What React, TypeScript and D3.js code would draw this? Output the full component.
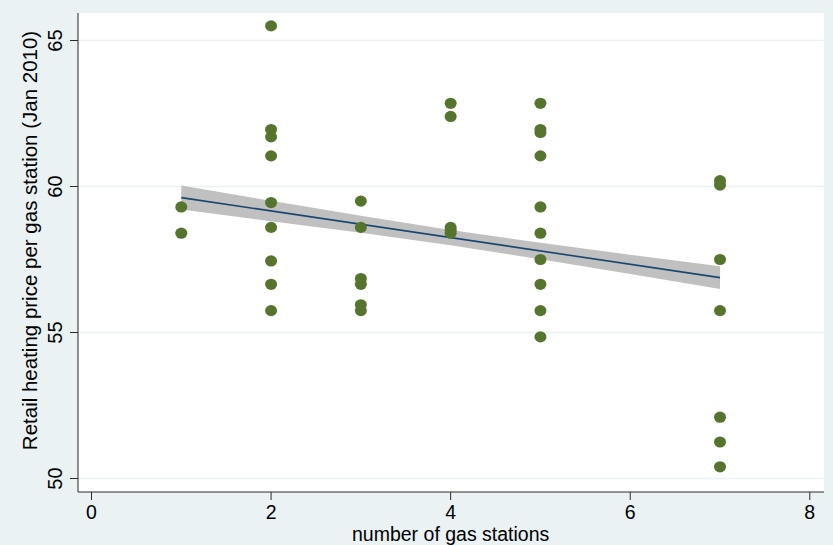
import React from "react";
import * as d3 from "d3";

// Retail heating price per gas station, grouped by the number of stations in town
const stationCounts = [1, 2, 3, 4, 5, 7];
const pricesAt1 = [59.3, 58.4];
const pricesAt2 = [65.5, 61.95, 61.7, 61.05, 59.45, 58.6, 57.45, 56.65, 55.75];
const pricesAt3 = [59.5, 58.6, 56.85, 56.65, 55.95, 55.75];
const pricesAt4 = [62.85, 62.4, 58.6, 58.5, 58.4];
const pricesAt5 = [62.85, 61.95, 61.85, 61.05, 59.3, 58.4, 57.5, 56.65, 55.75, 54.85];
const pricesAt7 = [60.2, 60.05, 57.5, 55.75, 52.1, 51.25, 50.4];
const pricesByCount = [pricesAt1, pricesAt2, pricesAt3, pricesAt4, pricesAt5, pricesAt7];

// Linear fit and its 95% confidence band
const fitX = [1, 7];
const fitY = [59.62, 56.88];
const bandX = [1, 2, 3, 4, 5, 6, 7];
const bandLow = [59.21, 58.81, 58.42, 57.99, 57.51, 57.0, 56.49];
const bandHigh = [60.03, 59.51, 59.0, 58.51, 58.07, 57.66, 57.27];

const xTicks = [0, 2, 4, 6, 8];
const yTicks = [50, 55, 60, 65];
const xTitle = "number of gas stations";
const yTitle = "Retail heating price per gas station (Jan 2010)";

const W = 833;
const H = 545;
const plot = { left: 78, right: 824, top: 13, bottom: 492 };
const FONT = "'Liberation Sans', Arial, sans-serif";

export default function App() {
  const x = d3.scaleLinear().domain([0, 8]).range([91.5, 809.8]);
  const y = d3.scaleLinear().domain([50, 65]).range([478.5, 40.5]);

  const points = stationCounts.flatMap((c, i) =>
    pricesByCount[i].map((p) => ({ c, p }))
  );

  const band = d3
    .area<number>()
    .x((_, i) => x(bandX[i]))
    .y0((_, i) => y(bandLow[i]))
    .y1((_, i) => y(bandHigh[i]));

  const fitLine = d3
    .line<number>()
    .x((_, i) => x(fitX[i]))
    .y((d) => y(d));

  return (
    <svg
      width={W}
      height={H}
      style={{ position: "absolute", left: 0, top: 0, display: "block" }}
      fontFamily={FONT}
    >
      <rect x={0} y={0} width={W} height={H} fill="#eaf2f3" />
      <rect
        x={plot.left}
        y={plot.top}
        width={plot.right - plot.left}
        height={plot.bottom - plot.top}
        fill="#ffffff"
      />
      {/* horizontal grid */}
      {yTicks.map((t) => (
        <line
          key={"g" + t}
          x1={plot.left}
          x2={plot.right}
          y1={y(t)}
          y2={y(t)}
          stroke="#eaf2f3"
          strokeWidth={1.5}
        />
      ))}

      {/* confidence band and fitted line */}
      <path d={band(bandX) ?? ""} fill="#c0c0c0" />
      <path d={fitLine(fitY) ?? ""} fill="none" stroke="#1a476f" strokeWidth={1.6} />

      {/* observations */}
      {points.map((d, i) => (
        <ellipse
          key={i}
          cx={x(d.c)}
          cy={y(d.p)}
          rx={6}
          ry={5.6}
          fill="#55752f"
        />
      ))}

      {/* axes */}
      <line x1={plot.left} x2={plot.left} y1={plot.top} y2={plot.bottom} stroke="#2b2b2b" strokeWidth={1} />
      <line x1={plot.left} x2={plot.right} y1={plot.bottom} y2={plot.bottom} stroke="#2b2b2b" strokeWidth={1} />
      {xTicks.map((t) => (
        <g key={"x" + t}>
          <line x1={x(t)} x2={x(t)} y1={plot.bottom} y2={plot.bottom + 8} stroke="#2b2b2b" strokeWidth={1} />
          <text x={x(t)} y={518.5} textAnchor="middle" fontSize={19.5} fill="#000">
            {t}
          </text>
        </g>
      ))}
      {yTicks.map((t) => (
        <g key={"y" + t}>
          <line x1={plot.left - 8} x2={plot.left} y1={y(t)} y2={y(t)} stroke="#2b2b2b" strokeWidth={1} />
          <text
            transform={`translate(62,${y(t)}) rotate(-90)`}
            textAnchor="middle"
            fontSize={20}
            fill="#000"
          >
            {t}
          </text>
        </g>
      ))}
      <text x={(x(0) + x(8)) / 2} y={540.5} textAnchor="middle" fontSize={19.5} fill="#000">
        {xTitle}
      </text>
      <text
        transform={`translate(37,${(plot.top + plot.bottom) / 2 - 12}) rotate(-90)`}
        textAnchor="middle"
        fontSize={20.5}
        fill="#000"
      >
        {yTitle}
      </text>
    </svg>
  );
}
